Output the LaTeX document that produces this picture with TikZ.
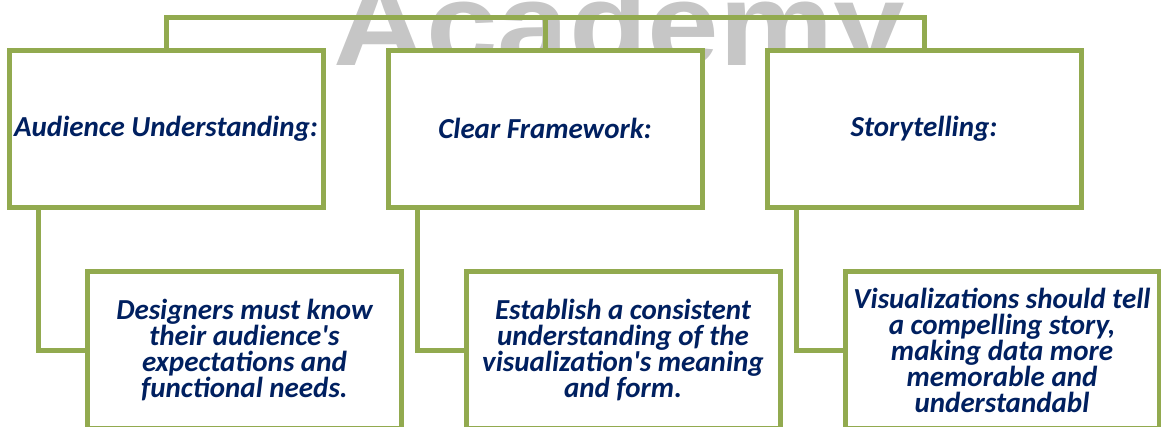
\documentclass[tikz,border=0pt]{standalone}
\usepackage{fontspec}
\setmainfont{Carlito}
\newfontfamily\markfont{Liberation Sans}
\definecolor{boxgreen}{RGB}{146,170,79}
\definecolor{textnavy}{RGB}{0,32,96}
\begin{document}
\begin{tikzpicture}[x=1pt,y=-1pt]

      \useasboundingbox (0,0) rectangle (1161,426);
      \clip (0,0) rectangle (1161,426);

      % watermark
      \node[anchor=base west, inner sep=0, text=gray!45,
        font=\markfont\bfseries\fontsize{118}{118}\selectfont] (mark) at (333,65) {\scalebox{1.09}[1]{Academy}};

      \begin{scope}[every node/.style={rectangle, draw=boxgreen, fill=white, line width=5pt,
          minimum width=314pt, minimum height=157pt, inner sep=0, align=center,
          text=textnavy, font=\bfseries\itshape\fontsize{29}{26}\selectfont}]
        \node (1) at (166,128.5)  {Audience Understanding:};
        \node (2) at (545,128.5)  {Clear Framework:};
        \node (3) at (924,128.5)  {Storytelling:};
        \node (4) at (244.5,350)  {Designers must know\\their audience\textquotesingle s\\expectations and\\functional needs.};
        \node (5) at (623,350)    {Establish a consistent\\understanding of the\\visualization\textquotesingle s meaning\\and form.};
        \node (6) at (1002,350)   {Visualizations should tell\\a compelling story,\\making data more\\memorable and\\understandabl};
      \end{scope}

      \coordinate (hub) at (545,17);

      \begin{scope}[draw=boxgreen, line width=5pt]
        \draw (2.north) -- ++(0,-30);
        \draw (1.north) |- (hub) -| (3.north);
        \draw ([xshift=32pt]1.south west) |- (4.west);
        \draw ([xshift=32pt]2.south west) |- (5.west);
        \draw ([xshift=32pt]3.south west) |- (6.west);
      \end{scope}

    \end{tikzpicture}
\end{document}
